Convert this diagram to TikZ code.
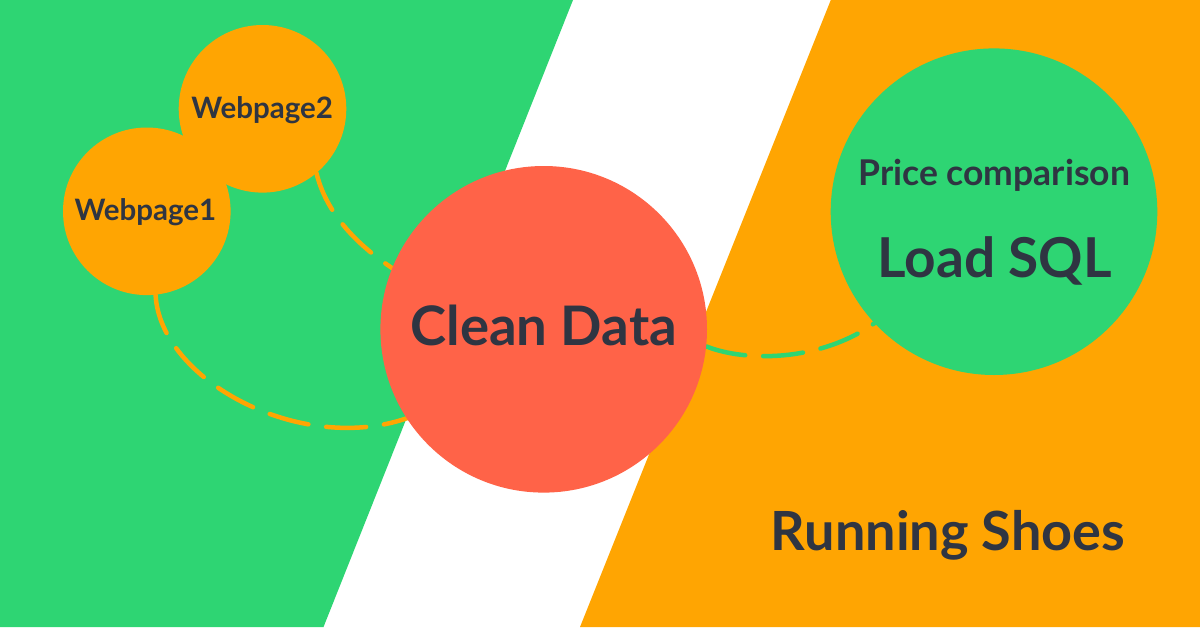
\documentclass[tikz,border=0pt]{standalone}
\usepackage{fontspec}
\setmainfont{Lato}
\definecolor{ufogreen}{HTML}{2ED573}
\definecolor{flatorange}{HTML}{FFA502}
\definecolor{tomato}{HTML}{FF6348}
\definecolor{prestige}{HTML}{2F3542}
\tikzset{
  lbl/.style={anchor=base, inner sep=0pt, text=prestige},
  dashline/.style={draw=#1, line width=4.5pt, line cap=round, dash pattern=on 40pt off 18pt}
}
\begin{document}
\begin{tikzpicture}[x=1pt, y=-1pt]
  \useasboundingbox (0,0) rectangle (1200,627);
  \fill[white] (0,0) rectangle (1200,627);
  \fill[ufogreen] (0,0) -- (573,0) -- (323.5,627) -- (0,627) -- cycle;
  \fill[flatorange] (830.8,0) -- (1200,0) -- (1200,627) -- (580,627) -- cycle;

  % circle nodes (shapes only; filled after the connectors so the lines pass beneath)
  \node[circle, minimum size=167.6pt, inner sep=0pt] (w2) at (262.5,108.8) {};
  \node[circle, minimum size=167.6pt, inner sep=0pt] (w1) at (146.8,211.3) {};
  \node[circle, minimum size=326.6pt, inner sep=0pt] (clean) at (543.7,329.3) {};
  \node[circle, minimum size=326.6pt, inner sep=0pt] (sql) at (994,211.7) {};

  % dashed connectors
  \draw[dashline=flatorange] (w1.-84) .. controls (160,380) and (300,455) .. (clean.213);
  \draw[dashline=flatorange] (w2.-50) .. controls (325,208) and (350,240) .. (clean.158);
  \draw[dashline=ufogreen] (clean.-6) .. controls (745,362) and (820,362) .. (sql.223);

  % filled discs
  \fill[flatorange] (w2) circle[radius=83.8];
  \fill[flatorange] (w1) circle[radius=83.8];
  \fill[tomato] (clean) circle[radius=163.3];
  \fill[ufogreen] (sql) circle[radius=163.3];

  % texts
  \node[lbl, font=\bfseries\fontsize{29.5}{32}\selectfont] (t2) at (262.1,118.3) {Webpage2};
  \node[lbl, font=\bfseries\fontsize{29.5}{32}\selectfont] (t1) at (145.5,220.7) {Webpage1};
  \node[lbl, font=\bfseries\fontsize{54.5}{60}\selectfont] (tc) at (543.7,345) {Clean Data};
  \node[lbl, font=\bfseries\fontsize{35.5}{38}\selectfont] (tp) at (994.2,185) {Price comparison};
  \node[lbl, font=\bfseries\fontsize{55}{60}\selectfont] (tl) at (994.5,277.7) {Load SQL};
  \node[lbl, font=\bfseries\fontsize{54}{58}\selectfont] (tr) at (948,550.7) {Running Shoes};
\end{tikzpicture}
\end{document}
